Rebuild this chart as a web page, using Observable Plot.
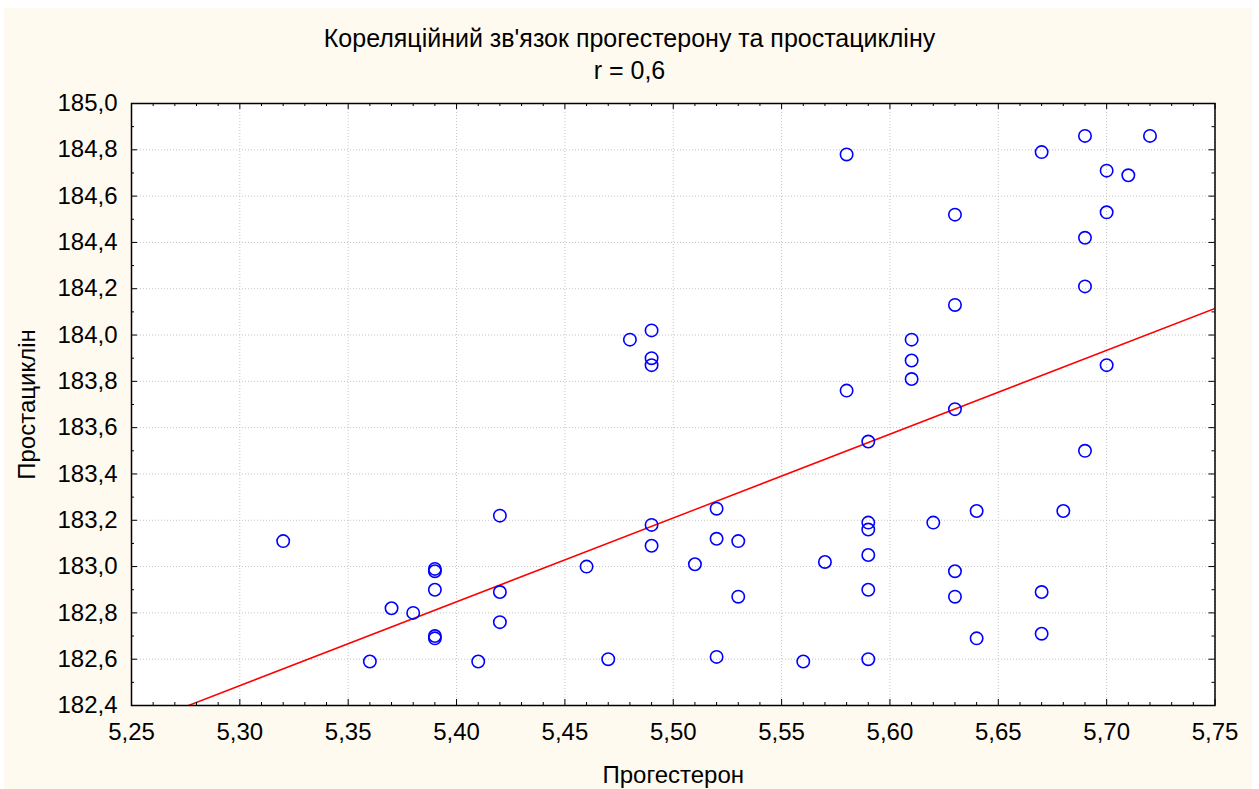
<!DOCTYPE html>
<html>
<head>
<meta charset="utf-8">
<script src="https://cdn.jsdelivr.net/npm/d3@7"></script>
<script src="https://cdn.jsdelivr.net/npm/@observablehq/plot@0.6"></script>
<style>
  body { margin: 0; background: #ffffff; font-family: "Liberation Sans", Arial, sans-serif; }
  #bg { position: absolute; left: 4px; top: 8px; width: 1248px; height: 781px; background: #fffaf0; }
  #title { position: absolute; left: 0; top: 22px; width: 1259px; text-align: center;
           font-size: 25px; line-height: 32px; color: #000; }
  #chart { position: absolute; left: 0; top: 0; }
</style>
</head>
<body>
<div id="bg"></div>
<div id="title"><div>Кореляційний зв'язок прогестерону та простацикліну</div><div>r = 0,6</div></div>
<div id="chart"></div>
<script>
// Data
const progesterone = [5.32,5.36,5.37,5.38,5.39,5.39,5.39,5.39,5.39,5.41,5.42,5.42,5.42,5.46,5.47,5.48,5.49,5.49,5.49,5.49,5.49,5.51,5.52,5.52,5.52,5.53,5.53,5.56,5.57,5.58,5.58,5.59,5.59,5.59,5.59,5.59,5.59,5.61,5.61,5.61,5.62,5.63,5.63,5.63,5.63,5.63,5.64,5.64,5.67,5.67,5.67,5.68,5.69,5.69,5.69,5.69,5.70,5.70,5.70,5.71,5.72];
const prostacyclin = [183.11,182.59,182.82,182.80,182.99,182.98,182.90,182.70,182.69,182.59,183.22,182.89,182.76,183.00,182.60,183.98,184.02,183.90,183.87,183.18,183.09,183.01,183.25,183.12,182.61,183.11,182.87,182.59,183.02,184.78,183.76,183.54,183.19,183.16,183.05,182.90,182.60,183.98,183.89,183.81,183.19,184.52,184.13,183.68,182.98,182.87,183.24,182.69,184.79,182.89,182.71,183.24,184.86,184.42,184.21,183.50,184.71,184.53,183.87,184.69,184.86];
const xTicks = [5.25,5.30,5.35,5.40,5.45,5.50,5.55,5.60,5.65,5.70,5.75];
const yTicks = [182.4,182.6,182.8,183.0,183.2,183.4,183.6,183.8,184.0,184.2,184.4,184.6,184.8,185.0];
const titleText = "Кореляційний зв'язок прогестерону та простацикліну";
const xLabel = "Прогестерон";
const yLabel = "Простациклін";

const data = progesterone.map((x, i) => ({x, y: prostacyclin[i]}));
const xDomain = [5.25, 5.75];
const yDomain = [182.4, 185.0];

// minor ticks (between the majors)
const xMinor = d3.range(0, 51).map(i => 5.25 + i * 0.01).filter((v, i) => i % 5 !== 0);
const yMinor = d3.range(0, 27).map(i => 182.4 + i * 0.1).filter((v, i) => i % 2 !== 0);

// least-squares regression line
const mx = d3.mean(data, d => d.x), my = d3.mean(data, d => d.y);
const slope = d3.sum(data, d => (d.x - mx) * (d.y - my)) / d3.sum(data, d => (d.x - mx) ** 2);
const intercept = my - slope * mx;
const regLine = xDomain.map(x => ({x, y: intercept + slope * x}));

const W = 1259, H = 789;
const mL = 131, mR = 44.5, mT = 103, mB = 84;
const innerW = W - mL - mR, innerH = H - mT - mB;
const comma = d => d3.format(".2f")(d).replace(".", ",");
const comma1 = d => d3.format(".1f")(d).replace(".", ",");

const chart = Plot.plot({
  width: W, height: H,
  marginLeft: mL, marginRight: mR, marginTop: mT, marginBottom: mB,
  style: {background: "transparent", fontFamily: "'Liberation Sans', Arial, sans-serif", fontSize: "24px", color: "#000", overflow: "visible"},
  x: {domain: xDomain},
  y: {domain: yDomain},
  marks: [
    Plot.frame({fill: "white", stroke: null}),
    Plot.gridX(xTicks, {stroke: "#c4c4c4", strokeOpacity: 1, strokeDasharray: "1,2"}),
    Plot.gridY(yTicks, {stroke: "#c4c4c4", strokeOpacity: 1, strokeDasharray: "1,2"}),
    Plot.line(regLine, {x: "x", y: "y", stroke: "#ff0000", strokeWidth: 1.5, clip: true}),
    Plot.dot(data, {x: "x", y: "y", r: 6.2, stroke: "#0000ff", strokeWidth: 1.6, fill: "none"}),
    // inward ticks
    Plot.tickX(xTicks, {x: d => d, insetTop: innerH - 6}),
    Plot.tickX(xTicks, {x: d => d, insetBottom: innerH - 6}),
    Plot.tickX(xMinor, {x: d => d, insetTop: innerH - 3}),
    Plot.tickX(xMinor, {x: d => d, insetBottom: innerH - 3}),
    Plot.tickY(yTicks, {y: d => d, insetRight: innerW - 6}),
    Plot.tickY(yTicks, {y: d => d, insetLeft: innerW - 6}),
    Plot.tickY(yMinor, {y: d => d, insetRight: innerW - 3}),
    Plot.tickY(yMinor, {y: d => d, insetLeft: innerW - 3}),
    Plot.axisX(xTicks, {anchor: "bottom", tickSize: 0, tickPadding: 17, tickFormat: comma,
      label: xLabel, labelAnchor: "center", labelArrow: "none", labelOffset: 77, fontSize: 24}),
    Plot.axisY(yTicks, {anchor: "left", tickSize: 0, tickPadding: 14, tickFormat: comma1,
      label: yLabel, labelAnchor: "center", labelArrow: "none", labelOffset: 114, fontSize: 24}),
    Plot.frame({stroke: "#000", strokeWidth: 1.5})
  ]
});
document.getElementById("chart").append(chart);
</script>
</body>
</html>
